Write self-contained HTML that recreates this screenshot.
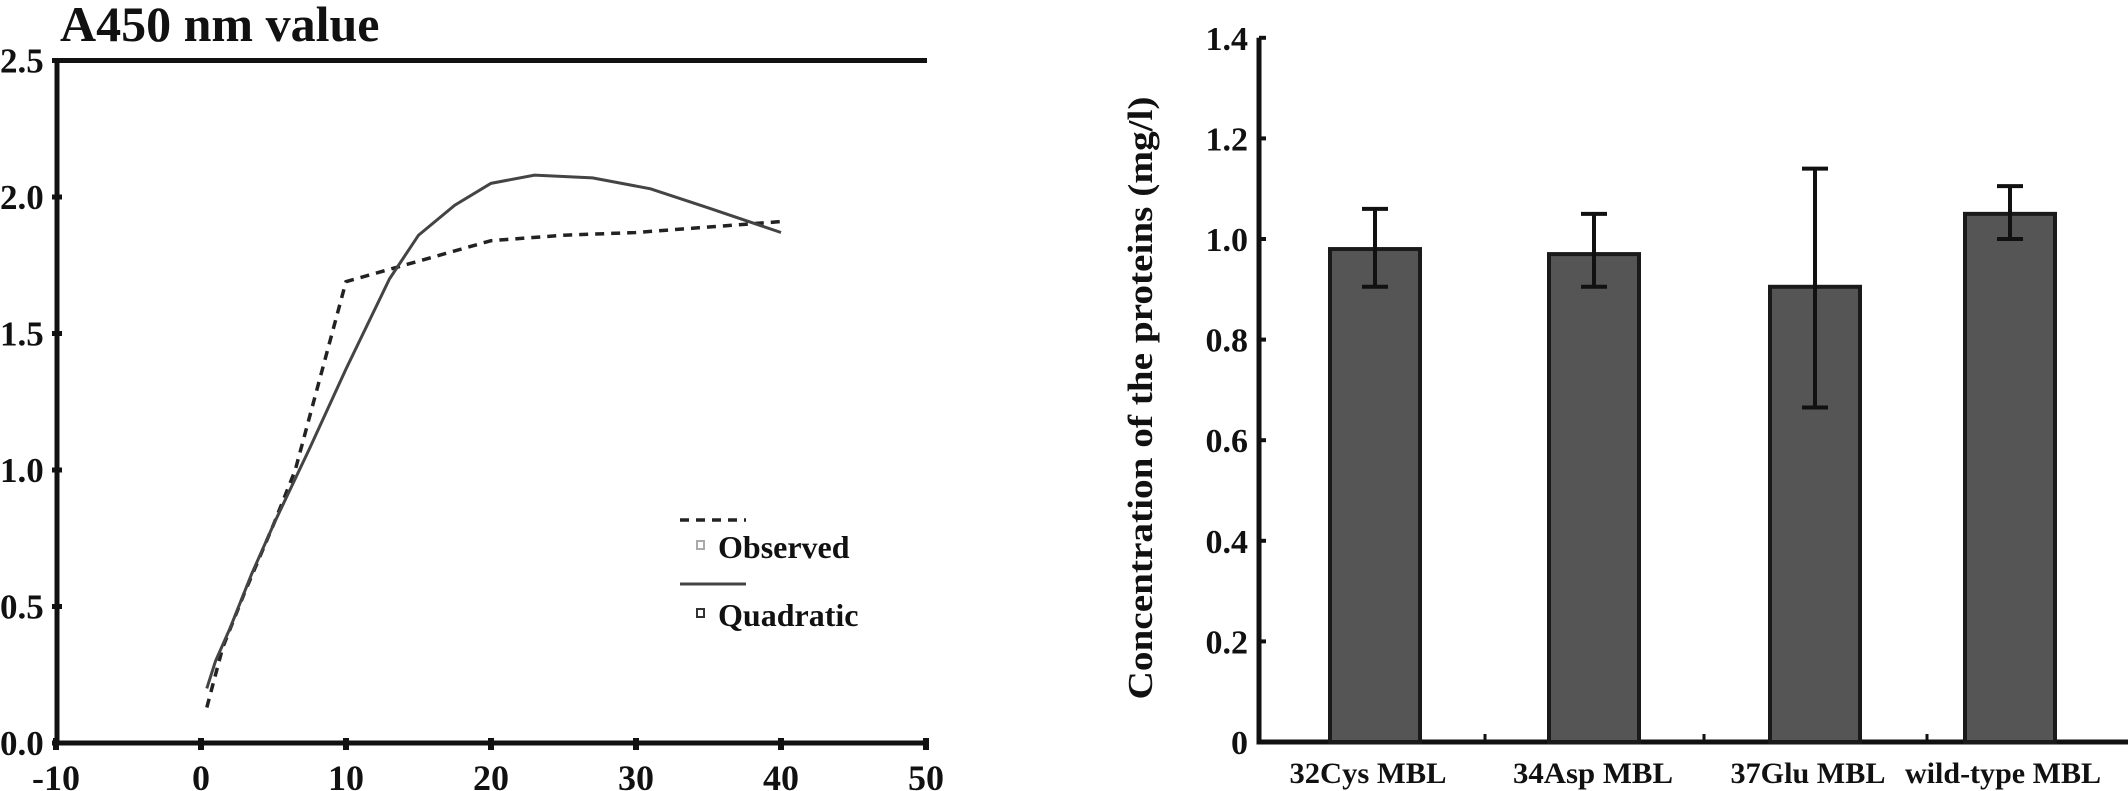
<!DOCTYPE html>
<html><head><meta charset="utf-8"><style>
html,body{margin:0;padding:0;background:#fff}
svg{display:block}
text{font-family:"Liberation Serif",serif;font-weight:bold;fill:#111}
</style></head><body>
<svg id="svg" width="2128" height="791" viewBox="0 0 2128 791" xmlns="http://www.w3.org/2000/svg">
<g id="left"></g>
<g id="right"></g>
</svg>
<script>
// Left chart data
const obsX = [0.4, 1.5, 3, 5, 6.5, 10, 20, 25, 30, 40];
const obsY = [0.13, 0.35, 0.55, 0.8, 1.0, 1.69, 1.84, 1.86, 1.87, 1.91];
const quadX = [0.4, 1, 2, 3.5, 5, 7.5, 10, 13, 15, 17.5, 20, 23, 27, 31, 35, 40];
const quadY = [0.2, 0.3, 0.42, 0.62, 0.8, 1.08, 1.37, 1.7, 1.86, 1.97, 2.05, 2.08, 2.07, 2.03, 1.96, 1.87];
const leftXTicks = [-10, 0, 10, 20, 30, 40, 50];
const leftYTicks = [0.0, 0.5, 1.0, 1.5, 2.0, 2.5];
// Right chart data
const categories = ["32Cys MBL", "34Asp MBL", "37Glu MBL", "wild-type MBL"];
const barValues = [0.98, 0.97, 0.905, 1.05];
const errLow = [0.905, 0.905, 0.665, 1.0];
const errHigh = [1.06, 1.05, 1.14, 1.105];
const rightYTicks = [0, 0.2, 0.4, 0.6, 0.8, 1.0, 1.2, 1.4];
const rightYLabels = ["0", "0.2", "0.4", "0.6", "0.8", "1.0", "1.2", "1.4"];

const NS = "http://www.w3.org/2000/svg";
function mk(parent, tag, attrs, txt) {
  const e = document.createElementNS(NS, tag);
  for (const k in attrs) e.setAttribute(k, attrs[k]);
  if (txt !== undefined) e.textContent = txt;
  parent.appendChild(e);
  return e;
}
// Left axes
const L = document.getElementById('left');
const lx = v => 201 + v * 14.5;
const ly = v => 743 - v * 273;
let t = mk(L, 'text', {x: 60, y: 41, 'font-size': 50});
t.textContent = 'A450 nm value';


let a = mk(L, 'path', {d: `M57,${ly(2.5)} H927 M57,${ly(2.5)} V${ly(0)} H927`, stroke: '#111', 'stroke-width': 5, fill: 'none'});


leftYTicks.forEach(v => {
  const tk = mk(L, 'line', {x1: 52, x2: 62, y1: ly(v), y2: ly(v), stroke: '#111', 'stroke-width': 5});
  
  
  const tl = mk(L, 'text', {x: 0, y: ly(v) + 12, 'font-size': 35});
  tl.textContent = v.toFixed(1);
  
  
});
leftXTicks.forEach(v => {
  const tk = mk(L, 'line', {x1: lx(v), x2: lx(v), y1: 738, y2: 750, stroke: '#111', 'stroke-width': 6});
  
  
  const tl = mk(L, 'text', {x: Math.max(lx(v), 38), y: 790, 'font-size': 36, 'text-anchor': 'middle'});
  tl.textContent = v;
  
  
});
const obs = mk(L, 'path', {d: obsX.map((x, i) => (i ? 'L' : 'M') + lx(x) + ',' + ly(obsY[i])).join(''), stroke: '#222', 'stroke-width': 3.5, fill: 'none', 'stroke-dasharray': '9,7'});


const quad = mk(L, 'path', {d: quadX.map((x, i) => (i ? 'L' : 'M') + lx(x) + ',' + ly(quadY[i])).join(''), stroke: '#444', 'stroke-width': 3, fill: 'none'});


// legend
const lg = mk(L, 'g', {});


mk(lg, 'line', {x1: 680, x2: 746, y1: 520, y2: 520, stroke: '#222', 'stroke-width': 3.5, 'stroke-dasharray': '9,7'});
mk(lg, 'rect', {x: 697, y: 541, width: 7, height: 8, fill: 'none', stroke: '#aaa', 'stroke-width': 2});
mk(lg, 'text', {x: 718, y: 558, 'font-size': 32}, 'Observed');
mk(lg, 'line', {x1: 680, x2: 746, y1: 584, y2: 584, stroke: '#444', 'stroke-width': 3});
mk(lg, 'rect', {x: 697, y: 609, width: 7, height: 8, fill: 'none', stroke: '#333', 'stroke-width': 2});
mk(lg, 'text', {x: 718, y: 626, 'font-size': 32}, 'Quadratic');

// Right chart
const R = document.getElementById('right');
const ry = v => 742 - v * 503;
const centers = [1375, 1594, 1815, 2010];
const labelCenters = [1368, 1593, 1808, 2003];
const labelWidths = [157, 160, 155, 196];
const bw = 90;
const ax = mk(R, 'path', {d: `M1259,${ry(1.4)} V${ry(0)} H2128`, stroke: '#111', 'stroke-width': 5, fill: 'none'});


rightYTicks.forEach((v, i) => {
  const tk = mk(R, 'line', {x1: 1259, x2: 1266, y1: ry(v), y2: ry(v), stroke: '#111', 'stroke-width': 4});
  
  
  const tl = mk(R, 'text', {x: 1248, y: ry(v) + 12, 'font-size': 34, 'text-anchor': 'end'});
  tl.textContent = rightYLabels[i];
  
  
});
[1485, 1704, 1927].forEach(x => {
  const tk = mk(R, 'line', {x1: x, x2: x, y1: 734, y2: 744, stroke: '#111', 'stroke-width': 3});
  
  
});
const yt = mk(R, 'text', {x: 0, y: 0, 'font-size': 35, 'text-anchor': 'middle', transform: 'translate(1152,398) rotate(-90)', textLength: 603, lengthAdjust: 'spacingAndGlyphs'});
yt.textContent = 'Concentration of the proteins (mg/l)';


categories.forEach((c, i) => {
  const cx = centers[i];
  const b = mk(R, 'rect', {x: cx - bw / 2, y: ry(barValues[i]), width: bw, height: ry(0) - ry(barValues[i]), fill: '#555', stroke: '#1a1a1a', 'stroke-width': 4});
  
  
  const e = mk(R, 'path', {d: `M${cx},${ry(errLow[i])} V${ry(errHigh[i])} M${cx - 13},${ry(errLow[i])} H${cx + 13} M${cx - 13},${ry(errHigh[i])} H${cx + 13}`, stroke: '#111', 'stroke-width': 4, fill: 'none'});
  
  
  const tl = mk(R, 'text', {x: labelCenters[i], y: 783, 'font-size': 30, 'text-anchor': 'middle', textLength: labelWidths[i], lengthAdjust: 'spacingAndGlyphs'});
  tl.textContent = c;
  
  
});
</script>
</body></html>
